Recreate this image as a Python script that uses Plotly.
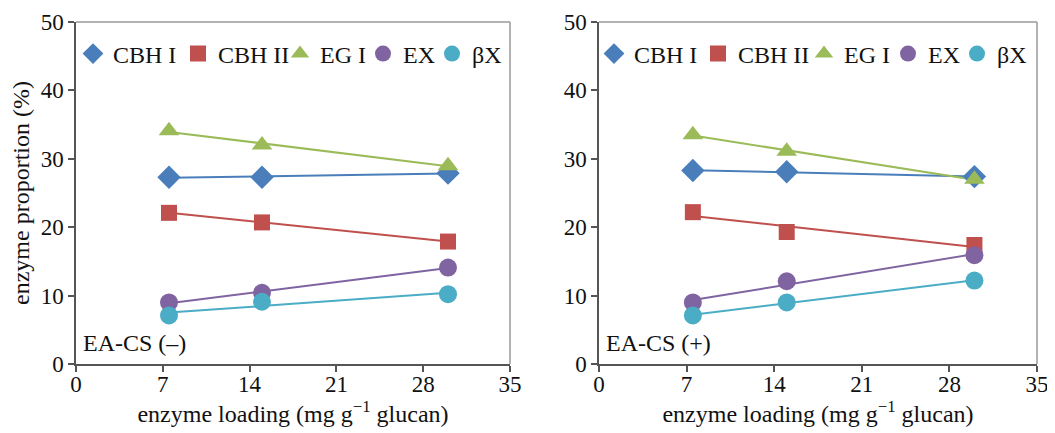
import numpy as np
import plotly.graph_objects as go

# ---- data ----
loading = [7.5, 15, 30]
series_names = ["CBH I", "CBH II", "EG I", "EX", "βX"]

left_cbh1 = [27.3, 27.3, 27.9]
left_cbh2 = [22.1, 20.7, 17.9]
left_eg1 = [34.1, 32.0, 29.0]
left_ex = [9.0, 10.4, 14.1]
left_bx = [7.1, 9.1, 10.2]

right_cbh1 = [28.3, 28.1, 27.4]
right_cbh2 = [22.2, 19.3, 17.4]
right_eg1 = [33.5, 31.1, 27.0]
right_ex = [9.0, 12.1, 15.9]
right_bx = [7.1, 9.0, 12.2]

x_ticks = [0, 7, 14, 21, 28, 35]
y_ticks = [0, 10, 20, 30, 40, 50]

colors = ["#4A7EBB", "#C0504D", "#9BBB59", "#8064A2", "#4BACC6"]
symbols = ["diamond", "square", "triangle-up", "circle", "circle"]
msizes = [18, 16, 18, 18, 18]

FONT = "Liberation Serif"

# page has an 8px body margin: figure size / margins compensate
W, H = 1047, 425
ML, MR, MT, MB = 68, 18, 14, 69
PW = W - ML - MR
PH = H - MT - MB


def px_to_paper_x(page_x):
    return (page_x - 8 - ML) / PW


def px_to_paper_y(page_y):
    return 1 - (page_y - 8 - MT) / PH


# legend entry left edges (page px) for each panel
legend_left_px = [[73, 178, 280, 363, 432], [594, 698, 804, 888, 957]]

fig = go.Figure()

panels = [
    ([left_cbh1, left_cbh2, left_eg1, left_ex, left_bx], "x", "y"),
    ([right_cbh1, right_cbh2, right_eg1, right_ex, right_bx], "x2", "y2"),
]

legend_layout = {}
lg_counter = 0
for p, (vals, xa, ya) in enumerate(panels):
    # linear trendlines first
    for name, v, c in zip(series_names, vals, colors):
        coef = np.polyfit(loading, v, 1)
        xs = np.array([min(loading), max(loading)])
        fig.add_trace(go.Scatter(
            x=xs, y=np.polyval(coef, xs), mode="lines",
            line=dict(color=c, width=2), showlegend=False,
            xaxis=xa, yaxis=ya, hoverinfo="skip"))
    for i, (name, v, c, s, ms) in enumerate(zip(series_names, vals, colors, symbols, msizes)):
        lg_counter += 1
        lg = "legend" if lg_counter == 1 else f"legend{lg_counter}"
        fig.add_trace(go.Scatter(
            x=loading, y=v, mode="markers", name=name,
            marker=dict(color=c, symbol=s, size=ms, line=dict(width=0)),
            xaxis=xa, yaxis=ya, legend=lg))
        legend_layout[lg] = dict(
            orientation="h", x=px_to_paper_x(legend_left_px[p][i]), xanchor="left",
            y=px_to_paper_y(54), yanchor="middle",
            font=dict(family=FONT, size=24, color="#111111"),
            bgcolor="rgba(0,0,0,0)", itemwidth=30, tracegroupgap=0)

axis_common = dict(
    showgrid=False, zeroline=False, showline=True, linecolor="#555555", linewidth=1.5,
    ticks="outside", ticklen=6, tickcolor="#555555", tickwidth=1.5,
    tickfont=dict(family=FONT, size=23, color="#111111"),
)

xtitle = "enzyme loading (mg g<sup>−1</sup> glucan)"
left_dom = [0, px_to_paper_x(510)]
right_dom = [px_to_paper_x(599), 1]

fig.update_layout(
    width=W, height=H,
    margin=dict(l=ML, r=MR, t=MT, b=MB, autoexpand=False),
    plot_bgcolor="white", paper_bgcolor="white",
    font=dict(family=FONT, color="#111111", size=24),
    xaxis=dict(domain=left_dom, range=[0, 35], tickvals=x_ticks, anchor="y",
               ticklabelstandoff=-7,
               title=dict(text=xtitle, font=dict(family=FONT, size=24), standoff=7),
               **axis_common),
    yaxis=dict(domain=[0, 1], range=[0, 50], tickvals=y_ticks, anchor="x",
               title=dict(text="enzyme proportion (%)", font=dict(family=FONT, size=24), standoff=9),
               **axis_common),
    xaxis2=dict(domain=right_dom, range=[0, 35], tickvals=x_ticks, anchor="y2",
                ticklabelstandoff=-7,
                title=dict(text=xtitle, font=dict(family=FONT, size=24), standoff=7),
                **axis_common),
    yaxis2=dict(domain=[0, 1], range=[0, 50], tickvals=y_ticks, anchor="x2",
                **axis_common),
    showlegend=True,
    **legend_layout,
)

# lighter frame on top/right
for xd, yd in [("x domain", "y domain"), ("x2 domain", "y2 domain")]:
    fig.add_shape(type="line", xref=xd, yref=yd, x0=0, x1=1, y0=1, y1=1,
                  line=dict(color="#9a9a9a", width=1.5))
    fig.add_shape(type="line", xref=xd, yref=yd, x0=1, x1=1, y0=0, y1=1,
                  line=dict(color="#9a9a9a", width=1.5))

fig.add_annotation(text="EA-CS (–)", xref="x domain", yref="y domain", x=0.012, y=0.019,
                   xanchor="left", yanchor="bottom", showarrow=False,
                   font=dict(family=FONT, size=24, color="#111111"))
fig.add_annotation(text="EA-CS (+)", xref="x2 domain", yref="y2 domain", x=0.012, y=0.019,
                   xanchor="left", yanchor="bottom", showarrow=False,
                   font=dict(family=FONT, size=24, color="#111111"))

fig.write_html("out.html")
